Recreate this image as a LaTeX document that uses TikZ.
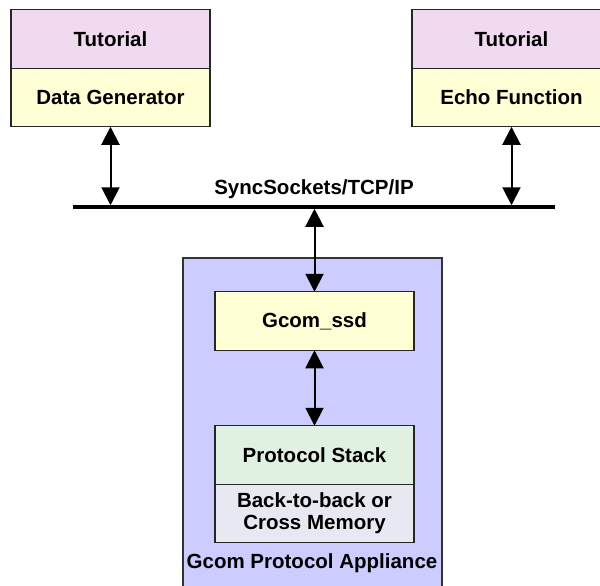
\documentclass[tikz,border=0pt]{standalone}
\usepackage{fontspec}
\setmainfont{Liberation Sans}
\usetikzlibrary{arrows.meta,positioning}
\definecolor{tutpink}{HTML}{EFDAF0}
\definecolor{tutyellow}{HTML}{FFFFD6}
\definecolor{stackgreen}{HTML}{E1F1E1}
\definecolor{memgrey}{HTML}{E8E8F3}
\definecolor{appblue}{HTML}{CCCCFF}
\newcommand{\lbl}{\fontsize{20.5}{22}\selectfont\bfseries}
\begin{document}
\begin{tikzpicture}[x=1pt,y=-1pt,
  box/.style={draw=black!85,line width=1.3pt,minimum width=199pt,minimum height=58.5pt,
    inner sep=0pt,outer sep=0pt,align=center,font=\lbl},
  link/.style={line width=2pt,{Triangle[width=18pt,length=18pt]}-{Triangle[width=18pt,length=18pt]}}]
\useasboundingbox (0,0) rectangle (600,586);
\clip (0,0) rectangle (600,586);

% the appliance box in the background
\node[draw=black!80,line width=1.3pt,fill=appblue,minimum width=259pt,minimum height=342pt,
  inner sep=0pt,outer sep=0pt] (app) at (312.5,429) {};
\node[font=\lbl] (applbl) at (312,563) {Gcom Protocol Appliance};

% tutorial programs
\node[box,fill=tutpink] (tutA) at (110.5,39) {Tutorial};
\node[box,fill=tutyellow,below=0pt of tutA] (gen) {Data Generator};
\node[box,fill=tutpink] (tutB) at (511.5,39) {Tutorial};
\node[box,fill=tutyellow,below=0pt of tutB] (echo) {Echo Function};

% the network
\coordinate (busL) at (73,207);
\coordinate (busR) at (555,207);
\draw[line width=3.5pt] (busL) -- (busR) node[midway,above=3pt,font=\lbl] (buslbl) {SyncSockets/TCP/IP};

% inside the appliance
\node[box,fill=tutyellow] (ssd) at (314.5,321) {Gcom\_ssd};
\node[box,fill=stackgreen] (stack) at (314.5,455) {Protocol Stack};
\node[box,fill=memgrey,below=0pt of stack] (mem) {Back-to-back or\\Cross Memory};

\draw[link,shorten >=1.75pt] (gen.south) -- (gen.south |- busL);
\draw[link,shorten >=1.75pt] (echo.south) -- (echo.south |- busL);
\draw[link,shorten <=1.75pt] (ssd.north |- busL) -- (ssd.north);
\draw[link] (ssd) -- (stack);
\end{tikzpicture}
\end{document}
